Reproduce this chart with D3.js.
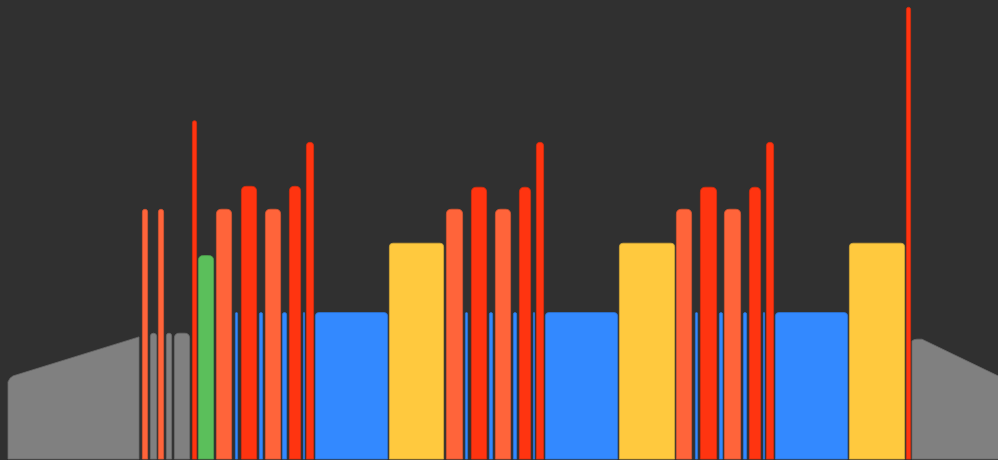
<!DOCTYPE html>
<html>
<head>
<meta charset="utf-8">
<script src="https://cdn.jsdelivr.net/npm/d3@7"></script>
<style>
  html, body { margin: 0; padding: 0; background: #303030; overflow: hidden; }
</style>
</head>
<body>
<div id="chart"></div>
<script>

// segment start / end (time units) , state and level
var segStart = [142, 150, 158, 166, 174, 192, 198, 216, 235, 241, 259, 265, 282, 289, 303, 306, 315, 389,
                446, 465, 471, 489, 495, 513, 519, 533, 536, 545, 619,
                676, 695, 700, 719, 724, 743, 749, 763, 766, 775, 849, 906];
var segEnd   = [148, 157, 164, 172, 190, 197, 214, 232, 238, 257, 263, 281, 287, 301, 305, 314, 388, 444,
                463, 468, 487, 493, 511, 517, 531, 535, 544, 618, 675,
                692, 698, 717, 723, 741, 747, 761, 765, 774, 848, 905, 911];
var segState = ["io", "idle", "io", "idle", "idle", "cpu", "init", "io", "wait", "cpu", "wait", "io", "wait", "cpu", "wait", "cpu", "wait", "render",
                "io", "wait", "cpu", "wait", "io", "wait", "cpu", "wait", "cpu", "wait", "render",
                "io", "wait", "cpu", "wait", "io", "wait", "cpu", "wait", "cpu", "wait", "render", "cpu"];
var segValue = [54.5, 27.5, 54.5, 27.5, 27.5, 73.8, 44.4, 54.5, 32, 59.5, 32, 54.5, 32, 59.5, 32, 69.1, 32, 47.1,
                54.5, 32, 59.3, 32, 54.5, 32, 59.3, 32, 69.1, 32, 47.1,
                54.5, 32, 59.3, 32, 54.5, 32, 59.3, 32, 69.1, 32, 47.1, 98.5];

// idle ramps at both ends
var rampLeftT  = [8, 10, 13, 16, 139];
var rampLeftV  = [16.8, 17.6, 18.1, 18.3, 26.6];
var rampRightT = [912, 914, 917, 922, 1000];
var rampRightV = [25.7, 26.0, 26.1, 26.1, 17.9];

var states = ["idle", "io", "cpu", "init", "wait", "render"];
var stateColors = ["#808080", "#ff643a", "#ff3410", "#5bbf5b", "#3389ff", "#ffc93e"];

var width = 998, height = 460;

var svg = d3.select("#chart").append("svg")
    .attr("width", width)
    .attr("height", height);

var x = d3.scaleLinear().domain([0, 998]).range([0, width]);
var y = d3.scaleLinear().domain([0, 100]).range([459, 0]);
var color = d3.scaleOrdinal().domain(states).range(stateColors);

function topRounded (x0, x1, y0, yb, r) {
  r = Math.min(r, (x1 - x0) / 2, yb - y0);
  return "M" + x0 + "," + yb +
         "V" + (y0 + r) +
         "Q" + x0 + "," + y0 + " " + (x0 + r) + "," + y0 +
         "H" + (x1 - r) +
         "Q" + x1 + "," + y0 + " " + x1 + "," + (y0 + r) +
         "V" + yb + "Z";
}

var segs = segStart.map(function (s, i) {
  return {start: s, end: segEnd[i], state: segState[i], value: segValue[i]};
});

var area = d3.area()
    .x(function (d) { return x(d.t); })
    .y0(y(0))
    .y1(function (d) { return y(d.v); });

[[rampLeftT, rampLeftV], [rampRightT, rampRightV]].forEach(function (r) {
  var pts = r[0].map(function (t, i) { return {t: t, v: r[1][i]}; });
  svg.append("path")
    .attr("d", area(pts))
    .attr("fill", color("idle"))
    .attr("stroke", d3.color(color("idle")).darker(0.5))
    .attr("stroke-width", 0.8);
});

svg.selectAll(".bar")
    .data(segs)
  .enter().append("path")
    .attr("class", "bar")
    .attr("d", function (d) {
      var w = x(d.end) - x(d.start);
      return topRounded(x(d.start) + 0.4, x(d.end) - 0.4, y(d.value) + 0.4, y(0), w > 30 ? 3.5 : 5);
    })
    .attr("fill", function (d) { return color(d.state); })
    .attr("stroke", function (d) { return d3.color(color(d.state)).darker(0.5); })
    .attr("stroke-width", 0.8);

</script>
</body>
</html>
